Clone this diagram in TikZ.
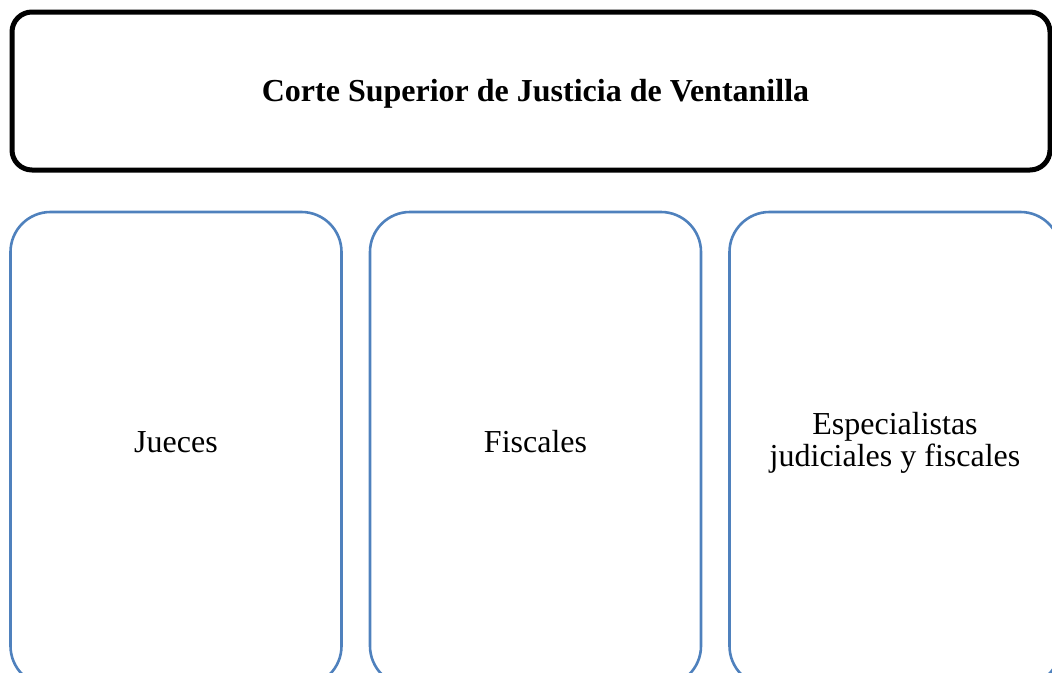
\documentclass[tikz,border=0pt]{standalone}
\usepackage{fontspec}
\setmainfont{Liberation Serif}
\definecolor{cajaazul}{RGB}{79,129,189}

\begin{document}
\begin{tikzpicture}[x=1pt, y=-1pt,
        titulo/.style={draw=black, line width=5pt, rounded corners=20pt, inner sep=0pt,
            minimum width=1038pt, minimum height=158pt},
        cargo/.style={draw=cajaazul, line width=2.6pt, rounded corners=40pt, inner sep=0pt,
            minimum width=331pt, minimum height=474pt},
        texto/.style={font=\fontsize{32}{32}\selectfont, align=center}]
        \useasboundingbox (0, 0) rectangle (1052, 672);
        \clip (0, 0) rectangle (1052, 672);

        % Cabecera
        \node[titulo] (corte) at (531, 91) {};
        \node[texto, font=\fontsize{32}{32}\selectfont\bfseries] (nombre) at (535.5, 94) {Corte Superior de Justicia de Ventanilla};

        % Cargos
        \node[cargo] (jueces) at (176, 449) {};
        \node[cargo] (fiscales) at (535.5, 449) {};
        \node[cargo] (especialistas) at (895, 449) {};
        \node[texto] (jueces-txt) at (176, 442) {Jueces};
        \node[texto] (fiscales-txt) at (535.5, 442) {Fiscales};
        \node[texto] (especialistas-txt) at (895, 443) {Especialistas\\judiciales y fiscales};

    \end{tikzpicture}
\end{document}
